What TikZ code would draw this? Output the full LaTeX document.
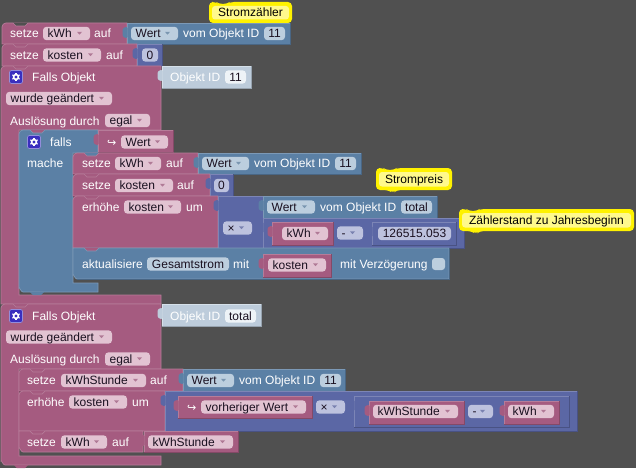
\documentclass[tikz,border=0pt]{standalone}
\usepackage{fontspec}
\setmainfont{Liberation Sans}
\newfontfamily\djv{DejaVu Sans}
\definecolor{bgc}{HTML}{505050}
\definecolor{gearc}{HTML}{3A2FBE}
\definecolor{pk}{HTML}{A55B80}\definecolor{pkL}{HTML}{B67C99}\definecolor{pkD}{HTML}{844967}\definecolor{pkF}{HTML}{E2C3D2}\definecolor{pkT}{HTML}{B07A96}
\definecolor{bl}{HTML}{5B80A5}\definecolor{blL}{HTML}{7C99B6}\definecolor{blD}{HTML}{496684}\definecolor{blF}{HTML}{BCCEDE}\definecolor{blT}{HTML}{7A96B0}
\definecolor{iv}{HTML}{5B67A5}\definecolor{ivL}{HTML}{7C85B6}\definecolor{ivD}{HTML}{495284}\definecolor{ivF}{HTML}{BDC2DE}\definecolor{ivT}{HTML}{7A82B0}
\definecolor{sh}{HTML}{BDCCDB}\definecolor{shL}{HTML}{D5E0E9}\definecolor{shD}{HTML}{97A3AF}\definecolor{shF}{HTML}{EEF3F7}
\definecolor{ink}{HTML}{1A1020}
\newcounter{nn}
\tikzset{
 lbl/.style={anchor=base west,inner sep=0pt,font=\fontsize{12}{14}\selectfont},
 bedge/.style={line width=.7pt},
}
% rectangular block
\newcommand\blk[5]{%
 \path[fill=#1,draw=#1L,bedge] (#2,#3) rectangle (#4,#5);
 \draw[#1D,bedge] (#4,#3) -- (#4,#5) -- (#2,#5);}
% statement block, rounded top left
\newcommand\sblk[5]{%
 \path[fill=#1,draw=#1L,bedge] (#2,#5) -- (#2,#3+4) to[out=90,in=180] (#2+4,#3) -- (#4,#3) -- (#4,#5) -- cycle;
 \draw[#1D,bedge] (#4,#3) -- (#4,#5) -- (#2,#5);}
% notch: fill is the colour above, line the light edge
\newcommand\notch[4]{%
 \fill[#1] (#3+11,#4-.4) -- (#3+14,#4+3) -- (#3+23,#4+3) -- (#3+26,#4-.4) -- cycle;
 \draw[#2,bedge] (#3+11,#4) -- (#3+14,#4+3) -- (#3+23,#4+3) -- (#3+26,#4);}
% tab at the left of a value block
\newcommand\tabb[3]{%
 \fill[#1,rounded corners=1.2pt] (#2+.5,#3+4) -- (#2-2,#3+4) -- (#2-4.5,#3+6) -- (#2-4.5,#3+13) -- (#2-2,#3+15) -- (#2+.5,#3+15) -- cycle;}
\newcommand\lab[3]{\stepcounter{nn}\node[lbl,text=white] (t\thenn) at (#1,#2+4.2) {#3};}
% field with dropdown triangle
\newcommand\fld[5]{\stepcounter{nn}%
 \fill[#1F,rounded corners=3.5pt] (#2,#4-6.7) rectangle (#3,#4+6.7);
 \node[lbl,text=ink] (t\thenn) at (#2+4.5,#4+4.2) {#5};
 \fill[#1T] (#3-13,#4-1.6) -- (#3-8,#4-1.6) -- (#3-10.5,#4+1.2) -- cycle;}
% field without dropdown
\newcommand\num[5]{\stepcounter{nn}%
 \fill[#1F,rounded corners=3.5pt] (#2,#4-6.7) rectangle (#3,#4+6.7);
 \node[lbl,text=ink,anchor=base] (t\thenn) at ({(#2+#3)/2},#4+4.2) {#5};}
\newcommand\gear[2]{%
 \fill[gearc,rounded corners=2pt,draw=gearc!55!white,bedge] (#1-6.5,#2-6.5) rectangle (#1+6.5,#2+6.5);
 \foreach \a in {30,90,...,330}{\draw[white,line width=1.1pt] (#1,#2) -- ++(\a:4.2);}
 \fill[white] (#1,#2) circle (3.3);
 \fill[gearc] (#1,#2) circle (1.6);}
\newcommand\arr[2]{\stepcounter{nn}\node[lbl,text=white,font=\djv\fontsize{11}{13}\selectfont] (t\thenn) at (#1,#2+4) {↪};}
\newcommand\note[5]{\stepcounter{nn}%
 \path[fill=yellow,rounded corners=4pt] (#1,#2) -- (#1+7,#2) -- (#1+10,#2+2) -- (#1+18,#2+2) -- (#1+21,#2) -- (#3,#2) -- (#3,#4) -- (#1+21,#4) -- (#1+17,#4+3) -- (#1+12,#4) -- (#1,#4) -- cycle;
 \fill[yellow!45!white,rounded corners=3pt] (#1+3,#2+4) rectangle (#3-3,#4-3.5);
 \node[lbl,text=black,anchor=base] (t\thenn) at ({(#1+#3)/2},{(#2+#4)/2+4.2}) {#5};}
\begin{document}
\begin{tikzpicture}[x=1pt,y=-1pt]
\useasboundingbox (0,0) rectangle (636,468);
\fill[bgc] (0,0) rectangle (636,468);
\note{209}{2}{292}{23}{Stromzähler}
% ---- row 1
\sblk{pk}{2}{23}{127}{44}
\notch{bgc}{pkL}{2}{23}
\blk{bl}{127}{23}{290}{44}
\tabb{bl}{127}{23}
\lab{10}{33.5}{setze}\fld{pk}{43}{90}{33.5}{kWh}\lab{94}{33.5}{auf}
\fld{bl}{131}{178}{33.5}{Wert}\lab{183}{33.5}{vom Objekt ID}\num{bl}{264}{285}{33.5}{11}
% ---- row 2
\sblk{pk}{2}{44}{137}{66}
\notch{pk}{pkL}{2}{44}
\blk{iv}{137}{44}{162}{66}
\tabb{iv}{137}{44}
\lab{10}{55}{setze}\fld{pk}{43}{101}{55}{kosten}\lab{106}{55}{auf}\num{iv}{142}{158}{55}{0}
% ---- Falls Objekt 1
\path[fill=pk,draw=pkL,bedge] (1,300) -- (1,70) to[out=90,in=180] (5,66) -- (161,66) -- (161,130) -- (19,130) -- (19,295) -- (161,295) -- (161,304) -- (1,304) -- cycle;
\notch{pk}{pkL}{2}{66}
\blk{sh}{162}{66}{251}{88}
\tabb{sh}{162}{66}
\gear{16}{77}
\lab{32}{77}{Falls Objekt}\lab{170}{77}{Objekt ID}\num{sh}{225}{246}{77}{11}
\fld{pk}{6}{112}{98.5}{wurde geändert}
\lab{10}{121}{Auslösung durch}\fld{pk}{105}{150}{120.5}{egal}
% ---- falls
\path[fill=bl,draw=blL,bedge] (19,288) -- (19,134) to[out=90,in=180] (23,130) -- (98,130) -- (98,153) -- (73,153) -- (73,283) -- (98,283) -- (98,292) -- (23,292) to[out=180,in=90] (19,288) -- cycle;
\fill[bl] (30,292) -- (33,295) -- (41,295) -- (44,292) -- cycle;
\notch{pk}{blL}{19}{130}
\gear{34}{142}
\lab{50}{142}{falls}\lab{27}{163}{mache}
\blk{pk}{98}{130}{173}{152}
\tabb{pk}{98}{130}
\arr{107}{142}\fld{pk}{121}{168}{142}{Wert}
% ---- inner statements
\sblk{pk}{73}{153}{198}{174}
\notch{bl}{pkL}{73}{153}
\blk{bl}{198}{153}{361}{174}
\tabb{bl}{198}{153}
\lab{82}{163.5}{setze}\fld{pk}{115}{161}{163.5}{kWh}\lab{166}{163.5}{auf}
\fld{bl}{202}{249}{163.5}{Wert}\lab{254}{163.5}{vom Objekt ID}\num{bl}{335}{356}{163.5}{11}
\sblk{pk}{73}{174}{210}{196}
\notch{pk}{pkL}{73}{174}
\blk{iv}{210}{174}{233}{196}
\tabb{iv}{210}{174}
\lab{82}{185.5}{setze}\fld{pk}{115}{173}{185.5}{kosten}\lab{177}{185.5}{auf}\num{iv}{214}{229}{185.5}{0}
\sblk{pk}{73}{196}{218}{248}
\notch{pk}{pkL}{73}{196}
\blk{iv}{218}{196}{263}{248}
\tabb{iv}{218}{196}
\lab{82}{207}{erhöhe}\fld{pk}{124}{181}{207}{kosten}\lab{186}{207}{um}
\fld{iv}{223}{252}{228}{×}
\blk{bl}{263}{196}{437}{218}
\tabb{bl}{263}{196}
\fld{bl}{267}{315}{207}{Wert}\lab{320}{207}{vom Objekt ID}\num{bl}{401}{432}{207}{total}
\blk{iv}{263}{218}{464}{248}
\tabb{iv}{263}{218}
\blk{pk}{272}{222}{333}{245}
\tabb{pk}{272}{222}
\fld{pk}{282}{328}{233.5}{kWh}
\fld{iv}{337}{363}{233}{-}
\blk{iv}{372}{222}{456}{245}
\tabb{iv}{372}{222}
\num{iv}{378}{451}{233.5}{126515.053}
\path[fill=bl,draw=blL,bedge] (73,275) -- (73,248) -- (449,248) -- (449,279) -- (77,279) to[out=180,in=90] (73,275) -- cycle;
\draw[blD,bedge] (449,248) -- (449,279) -- (77,279);
\notch{pk}{blL}{73}{248}
\lab{82}{264}{aktualisiere}\num{bl}{147}{229}{264}{Gesamtstrom}\lab{233}{264}{mit}
\blk{pk}{263}{254}{331}{277}
\tabb{pk}{263}{254}
\fld{pk}{268}{326}{265}{kosten}
\lab{340}{264}{mit Verzögerung}
\fill[blF,rounded corners=3pt] (432,258) rectangle (445,270);
\note{376}{168}{452}{190}{Strompreis}
\note{459}{209}{634}{231}{Zählerstand zu Jahresbeginn}
% ---- Falls Objekt 2
\path[fill=pk,draw=pkL,bedge] (1,461) -- (1,308) to[out=90,in=180] (5,304) -- (161,304) -- (161,369) -- (19,369) -- (19,456) -- (161,456) -- (161,465) -- (5,465) to[out=180,in=90] (1,461) -- cycle;
\fill[pk] (14,465) -- (17,468) -- (25,468) -- (28,465) -- cycle;
\notch{pk}{pkL}{2}{304}
\blk{sh}{162}{304}{261}{326}
\tabb{sh}{162}{304}
\gear{16}{316}
\lab{32}{316}{Falls Objekt}\lab{170}{316}{Objekt ID}\num{sh}{225}{256}{316}{total}
\fld{pk}{6}{112}{337}{wurde geändert}
\lab{10}{359}{Auslösung durch}\fld{pk}{105}{150}{359}{egal}
\sblk{pk}{19}{369}{183}{391}
\notch{pk}{pkL}{19}{369}
\blk{bl}{183}{369}{345}{391}
\tabb{bl}{183}{369}
\lab{27}{380.5}{setze}\fld{pk}{61}{146}{380.5}{kWhStunde}\lab{150}{380.5}{auf}
\fld{bl}{187}{234}{380.5}{Wert}\lab{239}{380.5}{vom Objekt ID}\num{bl}{320}{341}{380.5}{11}
\sblk{pk}{19}{391}{165}{431}
\notch{pk}{pkL}{19}{391}
\blk{iv}{165}{391}{577}{431}
\tabb{iv}{165}{391}
\lab{27}{402}{erhöhe}\fld{pk}{69}{127}{402}{kosten}\lab{132}{402}{um}
\blk{pk}{178}{396}{312}{418}
\tabb{pk}{178}{396}
\arr{187}{407}\fld{pk}{201}{306}{407}{vorheriger Wert}
\fld{iv}{316}{345}{407}{×}
\blk{iv}{354}{396}{569}{427}
\tabb{iv}{354}{396}
\blk{pk}{369}{401}{464}{424}
\tabb{pk}{369}{401}
\fld{pk}{373}{458}{411.5}{kWhStunde}
\fld{iv}{468}{493}{411.5}{-}
\blk{pk}{504}{401}{559}{424}
\tabb{pk}{504}{401}
\fld{pk}{508}{554}{411.5}{kWh}
\path[fill=pk,draw=pkL,bedge] (19,448) -- (19,431) -- (143,431) -- (143,452) -- (23,452) to[out=180,in=90] (19,448) -- cycle;
\notch{pk}{pkL}{19}{431}
\blk{pk}{144}{431}{238}{452}
\tabb{pk}{144}{431}
\lab{27}{442}{setze}\fld{pk}{61}{107}{442}{kWh}\lab{112}{442}{auf}
\fld{pk}{148}{233}{442}{kWhStunde}
\end{tikzpicture}
\end{document}
